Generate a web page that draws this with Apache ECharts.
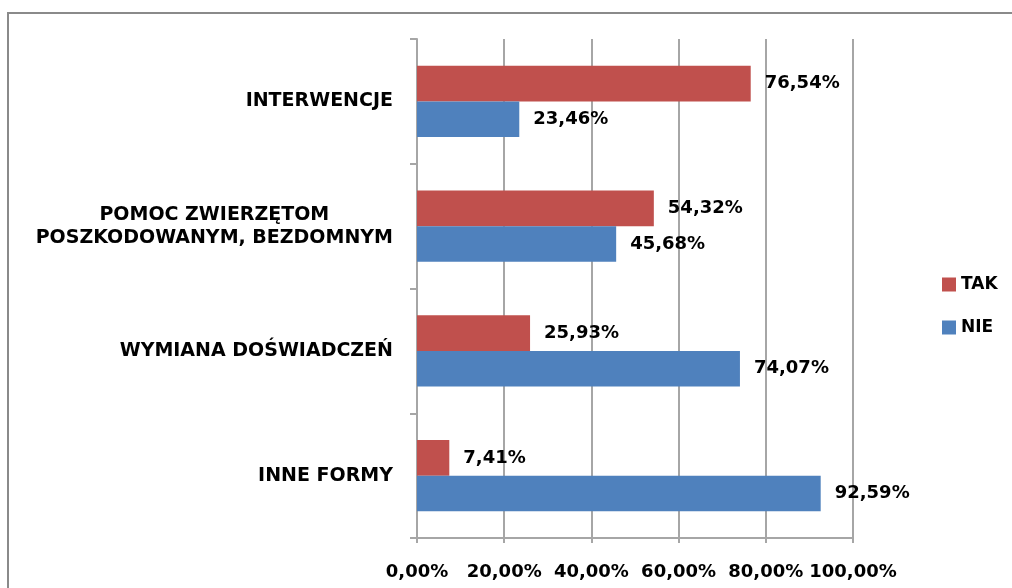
<!DOCTYPE html>
<html>
<head>
<meta charset="utf-8">
<script src="https://cdn.jsdelivr.net/npm/echarts@6/dist/echarts.min.js"></script>
<style>
html, body { margin: 0; padding: 0; background: #fff; }
#frame { position: absolute; left: 7px; top: 12px; width: 1020px; height: 600px; border-left: 2px solid #8a8a8a; border-top: 2px solid #8a8a8a; }
#main { position: absolute; left: 0; top: 0; width: 1012px; height: 588px; }
</style>
</head>
<body>
<div id="frame"></div>
<div id="main"></div>
<script>
// dane wykresu
var categories = ['INNE FORMY', 'WYMIANA DOŚWIADCZEŃ', 'POMOC ZWIERZĘTOM\nPOSZKODOWANYM, BEZDOMNYM', 'INTERWENCJE'];
var takValues = [7.41, 25.93, 54.32, 76.54];
var nieValues = [92.59, 74.07, 45.68, 23.46];
var xTicks = [0, 20, 40, 60, 80, 100];

var FONT = '"DejaVu Sans", sans-serif';
var FS = 18;

function pct(v) {
    return v.toFixed(2).replace('.', ',') + '%';
}

var valueLabel = {
    show: true,
    position: 'right',
    distance: 14,
    fontFamily: FONT,
    fontWeight: 'bold',
    fontSize: FS,
    color: '#000',
    formatter: function (p) { return pct(p.value); }
};

var myChart = echarts.init(document.getElementById('main'));

var option = {
    animation: false,
    textStyle: { fontFamily: FONT },
    legend: {
        orient: 'vertical',
        left: 937,
        top: 271,
        itemWidth: 14,
        itemHeight: 14,
        itemGap: 26,
        icon: 'rect',
        textStyle: { fontFamily: FONT, fontWeight: 'bold', fontSize: 17, color: '#000' },
        data: ['TAK', 'NIE']
    },
    grid: {
        left: 417,
        right: 159,
        top: 39,
        bottom: 50
    },
    xAxis: {
        type: 'value',
        min: xTicks[0],
        max: xTicks[xTicks.length - 1],
        interval: 20,
        axisLine: { show: true, lineStyle: { color: '#a6a6a6', width: 2 } },
        axisTick: { show: true, length: 5, lineStyle: { color: '#a6a6a6', width: 2 } },
        splitLine: { show: true, lineStyle: { color: '#a6a6a6', width: 2 } },
        axisLabel: {
            margin: 25,
            fontFamily: FONT,
            fontWeight: 'bold',
            fontSize: FS,
            color: '#000',
            formatter: function (v) { return pct(v); }
        }
    },
    yAxis: {
        type: 'category',
        data: categories,
        axisLine: { show: true, lineStyle: { color: '#a6a6a6', width: 2 } },
        axisTick: { show: true, length: 7, lineStyle: { color: '#a6a6a6', width: 2 } },
        axisLabel: {
            margin: 24,
            color: '#000',
            formatter: function (v) {
                return v.split('\n').map(function (s) { return '{c|' + s + '}'; }).join('\n');
            },
            rich: {
                c: {
                    align: 'center',
                    fontFamily: FONT,
                    fontWeight: 'bold',
                    fontSize: 19,
                    lineHeight: 23,
                    color: '#000'
                }
            }
        }
    },
    series: [
        {
            name: 'TAK',
            type: 'bar',
            data: takValues,
            barGap: '0%',
            barCategoryGap: '43%',
            itemStyle: { color: '#c0504d' },
            label: valueLabel
        },
        {
            name: 'NIE',
            type: 'bar',
            data: nieValues,
            barGap: '0%',
            barCategoryGap: '43%',
            itemStyle: { color: '#4f81bd' },
            label: valueLabel
        }
    ]
};

myChart.setOption(option);
</script>
</body>
</html>
